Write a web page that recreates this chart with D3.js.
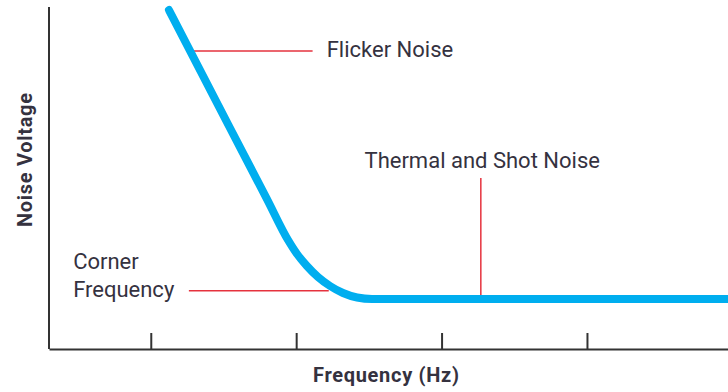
<!DOCTYPE html>
<html>
<head>
<meta charset="utf-8">
<script src="https://cdn.jsdelivr.net/npm/d3@7"></script>
<style>
  body { margin: 0; background: #fff; }
  text { font-family: Roboto, "Noto Sans", sans-serif; fill: #35323f; }
</style>
</head>
<body>
<svg id="chart"></svg>
<script>
// Chart size
const width = 728;
const height = 392;

// Noise curve (frequency, noise voltage) in arbitrary units
const curveX = [1.125, 1.534, 1.8, 1.944, 2.006, 2.074, 2.15, 2.233, 2.322, 2.419, 2.522, 2.7, 4.97];
const curveY = [9.912, 6.55, 4.377, 3.187, 2.778, 2.427, 2.105, 1.842, 1.637, 1.506, 1.462, 1.462, 1.462];

// Tick positions on the frequency axis (no labels)
const tickValues = [1, 2, 3, 4];

// Annotations: leader lines and their labels
const leaderLines = [
  { x1: 1.297, y1: 8.71, x2: 2.113, y2: 8.71 },  // flicker
  { x1: 1.262, y1: 1.70, x2: 2.224, y2: 1.70 },  // corner
  { x1: 3.27,  y1: 5.0,  x2: 3.27,  y2: 1.55 }   // thermal / shot
];
const labelText = ["Flicker Noise", "Corner", "Frequency", "Thermal and Shot Noise"];
const labelX = [2.21, 0.466, 0.466, 2.47];
const labelY = [8.53, 2.34, 1.53, 5.29];

const svg = d3.select("#chart")
              .attr("width", width)
              .attr("height", height);

const x = d3.scaleLinear().domain([0.3, 4.97]).range([49, 728]);
const y = d3.scaleLinear().domain([0, 10]).range([349, 7]);

// Axes
svg.append("line")
   .attr("x1", x(0.3)).attr("x2", x(0.3))
   .attr("y1", y(10)).attr("y2", y(0))
   .attr("stroke", "#333").attr("stroke-width", 2);

const xAxis = d3.axisBottom(x).tickValues(tickValues).tickSizeInner(-16).tickSizeOuter(0).tickFormat("");
svg.append("g")
   .attr("transform", `translate(0,${y(0)})`)
   .call(xAxis)
   .call(g => g.select(".domain").attr("stroke", "#333").attr("stroke-width", 2))
   .call(g => g.selectAll(".tick line").attr("stroke", "#333").attr("stroke-width", 2));

// Leader lines
svg.selectAll(".leader")
   .data(leaderLines)
   .enter().append("line")
   .attr("class", "leader")
   .attr("x1", d => x(d.x1)).attr("y1", d => y(d.y1))
   .attr("x2", d => x(d.x2)).attr("y2", d => y(d.y2))
   .attr("stroke", "#e5323e")
   .attr("stroke-width", 1.5);

// Noise curve
const line = d3.line()
               .x((d, i) => x(curveX[i]))
               .y(d => y(d))
               .curve(d3.curveMonotoneX);

svg.append("path")
   .attr("d", line(curveY))
   .attr("fill", "none")
   .attr("stroke", "#00aeef")
   .attr("stroke-width", 8)
   .attr("stroke-linecap", "round");

// Labels
svg.selectAll(".label")
   .data(labelText)
   .enter().append("text")
   .attr("class", "label")
   .attr("x", (d, i) => x(labelX[i]))
   .attr("y", (d, i) => y(labelY[i]))
   .attr("font-size", 22)
   .text(d => d);

// Axis titles
svg.append("text")
   .attr("x", 386).attr("y", 382)
   .attr("text-anchor", "middle")
   .attr("font-size", 20)
   .attr("font-weight", "bold")
   .attr("textLength", 146)
   .attr("lengthAdjust", "spacing")
   .text("Frequency (Hz)");

svg.append("text")
   .attr("transform", "translate(32,160) rotate(-90)")
   .attr("text-anchor", "middle")
   .attr("font-size", 20)
   .attr("font-weight", "bold")
   .attr("textLength", 134)
   .attr("lengthAdjust", "spacing")
   .text("Noise Voltage");
</script>
</body>
</html>
